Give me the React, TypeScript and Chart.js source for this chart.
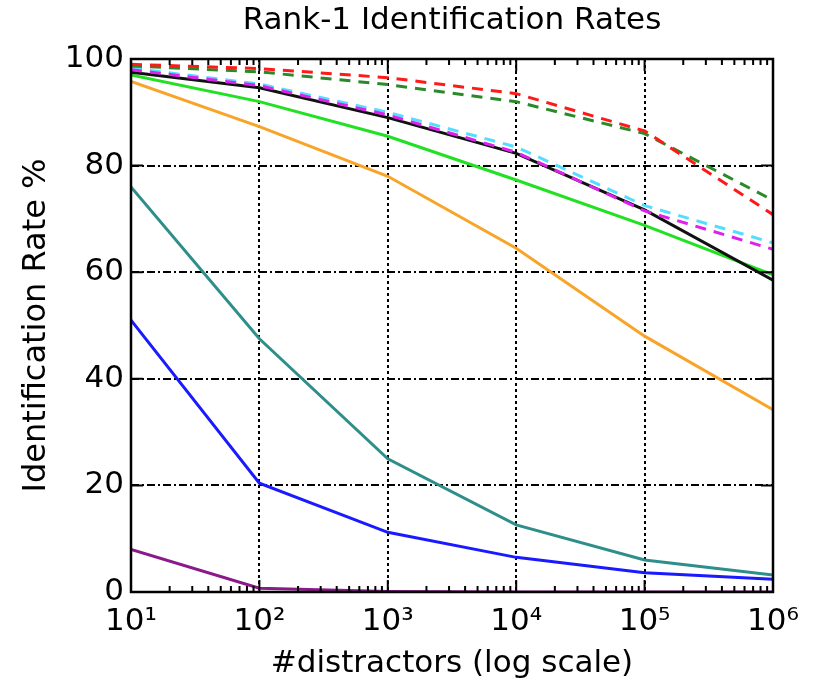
import React, { useEffect, useRef } from "react";
import { Chart, registerables } from "chart.js";
Chart.register(...registerables);

const distractors = [10, 100, 1000, 10000, 100000, 1000000];
const xTickLabels = ["10¹", "10²", "10³", "10⁴", "10⁵", "10⁶"];
const yTicks = [0, 20, 40, 60, 80, 100];

const redDashed = [99, 98.2, 96.5, 93.5, 86.5, 70.8];
const greenDashed = [98.7, 97.6, 95.2, 92, 86, 73.5];
const cyanDashed = [98.3, 95.3, 90, 83.5, 72.5, 65.5];
const magentaDashed = [98, 95, 89.5, 82.5, 71.5, 64.3];
const blackSolid = [97.5, 94.6, 89, 82.3, 71.7, 58.5];
const limeSolid = [97, 92, 85.5, 77.3, 68.8, 59.5];
const orangeSolid = [95.8, 87.3, 78, 64.5, 48, 34.2];
const tealSolid = [76, 47.5, 25, 12.6, 6, 3.2];
const blueSolid = [51, 20.4, 11.2, 6.5, 3.6, 2.4];
const purpleSolid = [8, 0.7, 0.1, 0, 0, 0];

const seriesDefs = [
  { label: "red", data: redDashed, color: "#ff1a1a", dash: [11, 8] },
  { label: "green dashed", data: greenDashed, color: "#2a8a2a", dash: [11, 8] },
  { label: "magenta", data: magentaDashed, color: "#dd22ee", dash: [11, 8] },
  { label: "cyan", data: cyanDashed, color: "#55ddff", dash: [11, 8] },
  { label: "black", data: blackSolid, color: "#111111", dash: [] },
  { label: "lime", data: limeSolid, color: "#22e022", dash: [] },
  { label: "orange", data: orangeSolid, color: "#f8a428", dash: [] },
  { label: "teal", data: tealSolid, color: "#2e8e8a", dash: [] },
  { label: "blue", data: blueSolid, color: "#1a1aff", dash: [] },
  { label: "purple", data: purpleSolid, color: "#8a1a8a", dash: [] },
];

const framePlugin = {
  id: "frame",
  afterDatasetsDraw(chart: any) {
    const { ctx, chartArea, scales } = chart;
    const { left, right, top, bottom } = chartArea;
    const x = scales.x;
    const y = scales.y;
    ctx.save();
    ctx.strokeStyle = "#000";
    ctx.setLineDash([]);
    ctx.lineWidth = 2;
    ctx.beginPath();
    for (let d = 0; d < distractors.length; d++) {
      const base = distractors[d];
      const px = x.getPixelForValue(base);
      ctx.moveTo(px, bottom);
      ctx.lineTo(px, bottom - 12);
      ctx.moveTo(px, top);
      ctx.lineTo(px, top + 12);
      if (d < distractors.length - 1) {
        for (let k = 2; k <= 9; k++) {
          const mx = x.getPixelForValue(base * k);
          ctx.moveTo(mx, bottom);
          ctx.lineTo(mx, bottom - 6);
          ctx.moveTo(mx, top);
          ctx.lineTo(mx, top + 6);
        }
      }
    }
    for (const v of yTicks) {
      const py = y.getPixelForValue(v);
      ctx.moveTo(left, py);
      ctx.lineTo(left + 12, py);
      ctx.moveTo(right, py);
      ctx.lineTo(right - 12, py);
    }
    ctx.stroke();
    ctx.lineWidth = 2.5;
    ctx.strokeRect(left, top, right - left, bottom - top);
    ctx.restore();
  },
};

export default function App() {
  const ref = useRef<HTMLCanvasElement>(null);
  useEffect(() => {
    if (!ref.current) return;
    Chart.defaults.font.family = "'DejaVu Sans', sans-serif";
    Chart.defaults.color = "#000";
    const chart = new Chart(ref.current, {
      type: "line",
      data: {
        datasets: seriesDefs.map((s) => ({
          label: s.label,
          data: distractors.map((d, i) => ({ x: d, y: s.data[i] })),
          borderColor: s.color,
          backgroundColor: s.color,
          borderWidth: 3,
          borderDash: s.dash,
          pointRadius: 0,
          tension: 0,
          fill: false,
        })),
      },
      options: {
        responsive: false,
        animation: false,
        layout: { padding: { left: 0, right: 40, top: 0, bottom: 0 } },
        plugins: {
          legend: { display: false },
          tooltip: { enabled: false },
          title: {
            display: true,
            fullSize: false,
            text: "Rank-1 Identification Rates",
            color: "#000",
            font: { size: 31, weight: "normal" },
            padding: { top: 2.5, bottom: 19.3 },
          },
        },
        scales: {
          x: {
            type: "logarithmic",
            min: 10,
            max: 1000000,
            afterBuildTicks: (s: any) => {
              s.ticks = distractors.map((v) => ({ value: v }));
            },
            afterFit: (s: any) => {
              s.height = 91;
            },
            ticks: {
              autoSkip: false,
              maxRotation: 0,
              font: { size: 31 },
              color: "#000",
              padding: 11,
              callback: (_v: any, i: number) => xTickLabels[i],
            },
            grid: { color: "#000", lineWidth: 2, drawTicks: false },
            border: { display: false, dash: [3, 3] },
            title: {
              display: true,
              text: "#distractors (log scale)",
              font: { size: 31 },
              color: "#000",
              padding: { top: 0, bottom: 0 },
            },
          },
          y: {
            type: "linear",
            min: 0,
            max: 100,
            afterBuildTicks: (s: any) => {
              s.ticks = yTicks.map((v) => ({ value: v }));
            },
            afterFit: (s: any) => {
              s.width = 131;
            },
            ticks: { font: { size: 31 }, color: "#000", padding: 7 },
            grid: { color: "#000", lineWidth: 2, drawTicks: false },
            border: { display: false, dash: [8, 3, 2, 3] },
            title: {
              display: true,
              text: "Identification Rate %",
              font: { size: 32 },
              color: "#000",
              padding: { top: 17, bottom: 0 },
            },
          },
        },
      },
      plugins: [framePlugin],
    } as any);
    return () => chart.destroy();
  }, []);
  return (
    <div style={{ position: "fixed", left: 0, top: 0, width: 813, height: 683, background: "#fff" }}>
      <canvas ref={ref} width={813} height={683} style={{ display: "block" }} />
    </div>
  );
}
